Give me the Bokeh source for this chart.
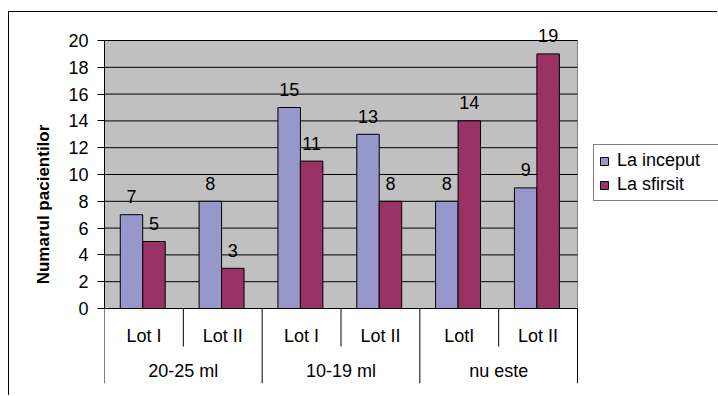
from bokeh.plotting import figure
from bokeh.models import (Range1d, FixedTicker, Legend, LegendItem, ColumnDataSource)
from bokeh.embed import file_html
from bokeh.resources import INLINE
from bokeh.core.properties import value

# ---------------- data ----------------
groups = ["20-25 ml", "10-19 ml", "nu este"]
lots = ["Lot I", "Lot II", "Lot I", "Lot II", "LotI", "Lot II"]
la_inceput = [7, 8, 15, 13, 8, 9]
la_sfirsit = [5, 3, 11, 8, 14, 19]
series_names = ["La inceput", "La sfirsit"]
y_ticks = [0, 2, 4, 6, 8, 10, 12, 14, 16, 18, 20]
y_title = "Numarul pacientilor"

# ---------------- style / layout ----------------
FONT = "Liberation Sans"
BLUE = "#9797cc"
RED = "#993366"
PLOT_BG = "#c0c0c0"
Y_TOP = 20
PX_PER_UNIT = 268 / 20.0
Y_MIN = -75 / PX_PER_UNIT          # category label area below the plot
Y_MAX = Y_TOP + 15 / PX_PER_UNIT   # head room for the value labels
LOT_LABEL_Y = -27.5 / PX_PER_UNIT
GROUP_LABEL_Y = -62.5 / PX_PER_UNIT
SUB_SEP_Y = -38 / PX_PER_UNIT
BAR_W = 0.285

n = len(lots)
X_MAX = n + 141 / (473 / n)        # room on the right for the legend
slot = list(range(n))
x_blue = [i + 0.2 + BAR_W / 2 for i in slot]
x_red = [i + 0.2 + BAR_W + BAR_W / 2 for i in slot]

p = figure(width=709, height=384, output_backend="svg", toolbar_location=None,
           x_range=Range1d(0, X_MAX), y_range=Range1d(Y_MIN, Y_MAX),
           x_axis_location=None, min_border_left=95, min_border_right=0,
           min_border_top=13, min_border_bottom=13)
p.margin = (11, 0, 0, 8)
p.styles = {"border-left": "1px solid black", "border-top": "1px solid black"}
p.outline_line_color = None
p.background_fill_color = "white"
p.border_fill_color = "white"
p.xgrid.visible = False
p.ygrid.visible = False

# plot area background
p.quad(left=[0], right=[n], bottom=[0], top=[Y_TOP], fill_color=PLOT_BG,
       line_color="#808080", line_width=1, level="image")

# horizontal grid lines across the plot area
p.segment(x0=[0] * len(y_ticks), x1=[n] * len(y_ticks), y0=y_ticks, y1=y_ticks,
          line_color="black", line_width=1)

# y axis
ax = p.yaxis[0]
ax.bounds = (0, Y_TOP)
ax.ticker = FixedTicker(ticks=y_ticks, minor_ticks=[])
ax.major_tick_in = 0
ax.major_tick_out = 7
ax.minor_tick_out = 0
ax.axis_line_color = "black"
ax.major_tick_line_color = "black"
ax.major_label_text_font = FONT
ax.major_label_text_font_size = "18px"
ax.major_label_text_color = "black"
ax.major_label_standoff = 9
ax.axis_label = y_title
ax.axis_label_text_font = FONT
ax.axis_label_text_font_style = "bold"
ax.axis_label_text_font_size = "17px"
ax.axis_label_text_color = "black"
ax.axis_label_standoff = 12

# bars
src = ColumnDataSource(dict(xb=x_blue, xr=x_red, a=la_inceput, b=la_sfirsit,
                            ta=[str(v) for v in la_inceput],
                            tb=[str(v) for v in la_sfirsit]))
r1 = p.vbar(x="xb", top="a", bottom=0, width=BAR_W, source=src,
            fill_color=BLUE, line_color="black", line_width=1)
r2 = p.vbar(x="xr", top="b", bottom=0, width=BAR_W, source=src,
            fill_color=RED, line_color="black", line_width=1)

p.text(x="xb", y="a", text="ta", source=src, y_offset=-18,
       text_align="center", text_baseline="alphabetic",
       text_font=value(FONT), text_font_size="18px", text_color="black")
p.text(x="xr", y="b", text="tb", source=src, y_offset=-18,
       text_align="center", text_baseline="alphabetic",
       text_font=value(FONT), text_font_size="18px", text_color="black")

# category separators
grp_sep = [i for i in range(0, n + 1, 2)]
sub_sep = [i for i in range(1, n, 2)]
p.segment(x0=grp_sep, x1=grp_sep, y0=[0] * len(grp_sep), y1=[Y_MIN] * len(grp_sep),
          line_color="black", line_width=1)
p.segment(x0=sub_sep, x1=sub_sep, y0=[0] * len(sub_sep), y1=[SUB_SEP_Y] * len(sub_sep),
          line_color="black", line_width=1)

# category labels
p.text(x=[i + 0.5 for i in slot], y=[LOT_LABEL_Y] * n, text=lots,
       text_align="center", text_baseline="middle", text_font=value(FONT),
       text_font_size="18px", text_color="black")
p.text(x=[2 * g + 1 for g in range(len(groups))], y=[GROUP_LABEL_Y] * len(groups),
       text=groups, text_align="center", text_baseline="middle",
       text_font=value(FONT), text_font_size="18px", text_color="black")

# legend
legend = Legend(items=[LegendItem(label=series_names[0], renderers=[r1]),
                       LegendItem(label=series_names[1], renderers=[r2])],
                location=(489, 182), orientation="vertical", margin=0,
                label_text_font=FONT, label_text_font_size="18px",
                label_text_color="black", glyph_width=10, glyph_height=10,
                label_standoff=8, padding=5, spacing=3, label_width=120,
                border_line_color="black", border_line_width=1,
                background_fill_color="white", background_fill_alpha=1)
p.add_layout(legend, "center")

open("out.html", "w").write(file_html(p, INLINE))
